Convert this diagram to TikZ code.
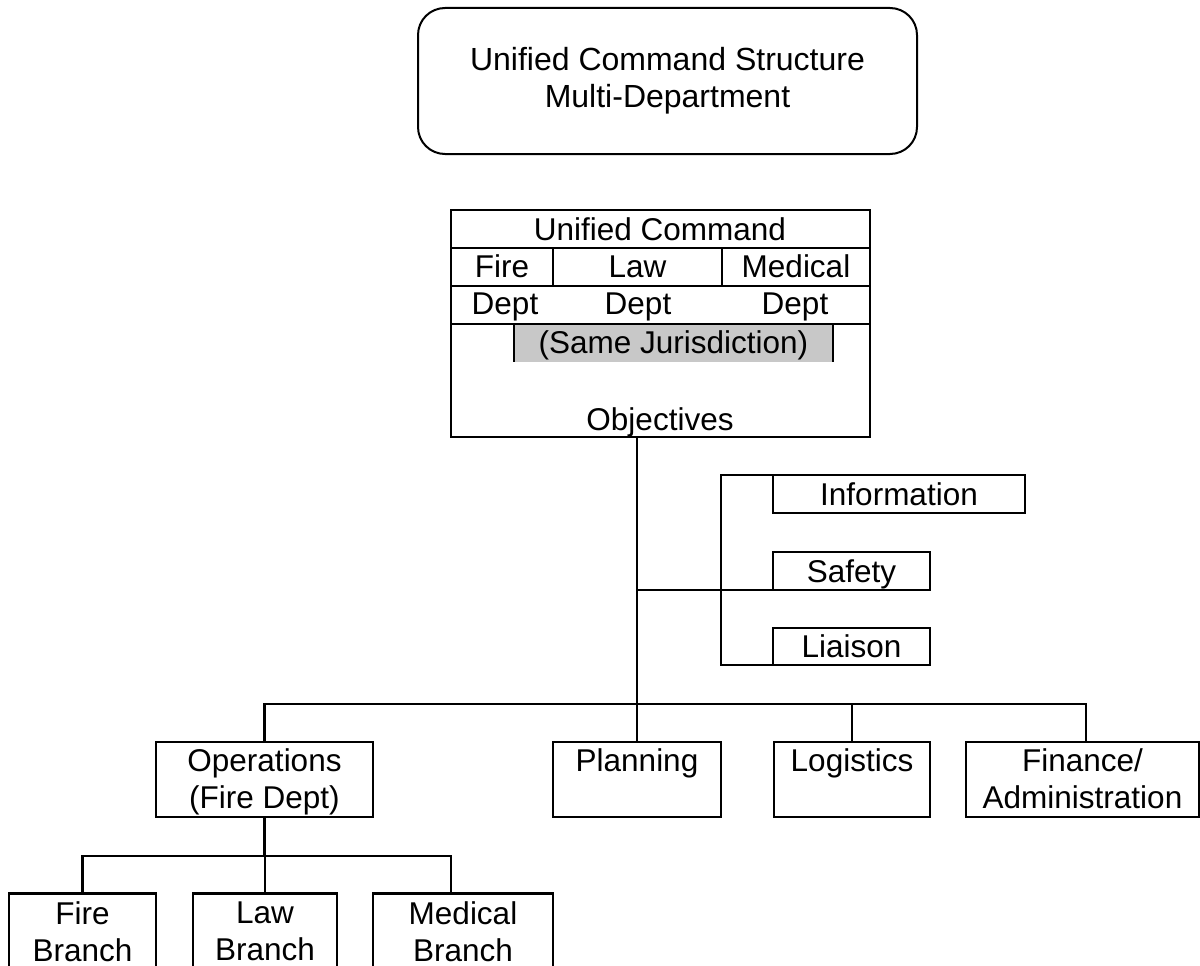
\documentclass[tikz,border=0pt]{standalone}
\usepackage{fontspec}
\setmainfont{Liberation Sans}
\definecolor{jgray}{RGB}{200,200,200}
\begin{document}
\begin{tikzpicture}[x=1pt,y=-1pt,
  line width=2.8pt,
  txt/.style={font=\fontsize{31.5}{37}\selectfont, inner sep=0pt, outer sep=0pt},
  box/.style={draw, rectangle, inner sep=0pt, outer sep=0pt, anchor=north west},
  midtxt/.style={txt, text height=22pt, text depth=0pt},
  toplbl/.style={txt, anchor=north, align=center},
]
\useasboundingbox (0,0) rectangle (1200,966);
\clip (0,0) rectangle (1200,966);

% title
\node[box, line width=2pt, rounded corners=27pt, minimum width=499pt, minimum height=146pt,
  label={[toplbl, font=\fontsize{32}{37}\selectfont, yshift=-39.5pt]north:{Unified Command Structure\\Multi-Department}}]
  (title) at (418,8) {};

% unified command table
\fill[jgray] (514,324) rectangle (833,362);
\node[box, minimum width=419pt, minimum height=227pt] (uc) at (451,210) {};
\draw (451,248) -- (870,248);
\draw (451,286) -- (870,286);
\draw (451,324) -- (870,324);
\draw (553,248) -- (553,286);
\draw (722,248) -- (722,286);
\draw (514,324) -- (514,362);
\draw (833,324) -- (833,362);
\node[txt, anchor=base] (uchead) at (660,240) {Unified Command};
\node[txt, anchor=base] (ucfire) at (502,277) {Fire};
\node[txt, anchor=base] (uclaw) at (637.5,277) {Law};
\node[txt, anchor=base] (ucmed) at (796,277) {Medical};
\node[txt, anchor=base] (ucdepta) at (505,314) {Dept};
\node[txt, anchor=base] (ucdeptb) at (638,314) {Dept};
\node[txt, anchor=base] (ucdeptc) at (795,314) {Dept};
\node[txt, anchor=base] (ucjur) at (673.5,353) {(Same Jurisdiction)};
\node[txt, anchor=base] (ucobj) at (660,430) {Objectives};

% command staff
\node[box, midtxt, minimum width=252pt, minimum height=38pt] (info) at (773,475) {Information};
\node[box, midtxt, minimum width=157pt, minimum height=38pt] (safety) at (773,552) {Safety};
\node[box, midtxt, minimum width=157pt, minimum height=37pt] (liaison) at (773,628) {Liaison};

% general staff
\node[box, minimum width=217pt, minimum height=75pt,
  label={[toplbl, yshift=-7pt]north:{Operations\\(Fire Dept)}}] (ops) at (156,742) {};
\node[box, minimum width=168pt, minimum height=75pt,
  label={[toplbl, yshift=-7pt]north:{Planning}}] (plan) at (553,742) {};
\node[box, minimum width=156pt, minimum height=75pt,
  label={[toplbl, yshift=-7pt]north:{Logistics}}] (log) at (774,742) {};
\node[box, minimum width=233pt, minimum height=75pt,
  label={[toplbl, yshift=-7pt]north:{Finance/\\Administration}}] (fin) at (966,742) {};

% branches
\node[box, minimum width=147pt, minimum height=110pt,
  label={[toplbl, yshift=-8pt]north:{Fire\\Branch}}] (fireb) at (9,893.5) {};
\node[box, minimum width=144pt, minimum height=110pt,
  label={[toplbl, yshift=-8pt]north:{Law\\Branch}}] (lawb) at (193,893.5) {};
\node[box, minimum width=180pt, minimum height=110pt,
  label={[toplbl, yshift=-8pt]north:{Medical\\Branch}}] (medb) at (373,893.5) {};

% connectors
\coordinate (bus) at (0,704);
\coordinate (subbus) at (0,856);
\coordinate (bracket) at (721,0);
\coordinate (fintap) at (1086,742);
\coordinate (medtap) at (451,893.5);

\draw (plan.north |- uc.south) -- (plan.north);
\draw (info.north west) -- (info.north west -| bracket) |- (liaison.south west);
\draw (plan.north |- safety.south west) -- (safety.south west);

\draw (ops.north) -- (ops.north |- bus) -- (fintap |- bus) -- (fintap);
\draw (log.north) -- (log.north |- bus);

\draw (ops.south) -- (ops.south |- subbus);
\draw (fireb.north) -- (fireb.north |- subbus) -- (medtap |- subbus) -- (medtap);
\draw (lawb.north) -- (lawb.north |- subbus);
\end{tikzpicture}
\end{document}
